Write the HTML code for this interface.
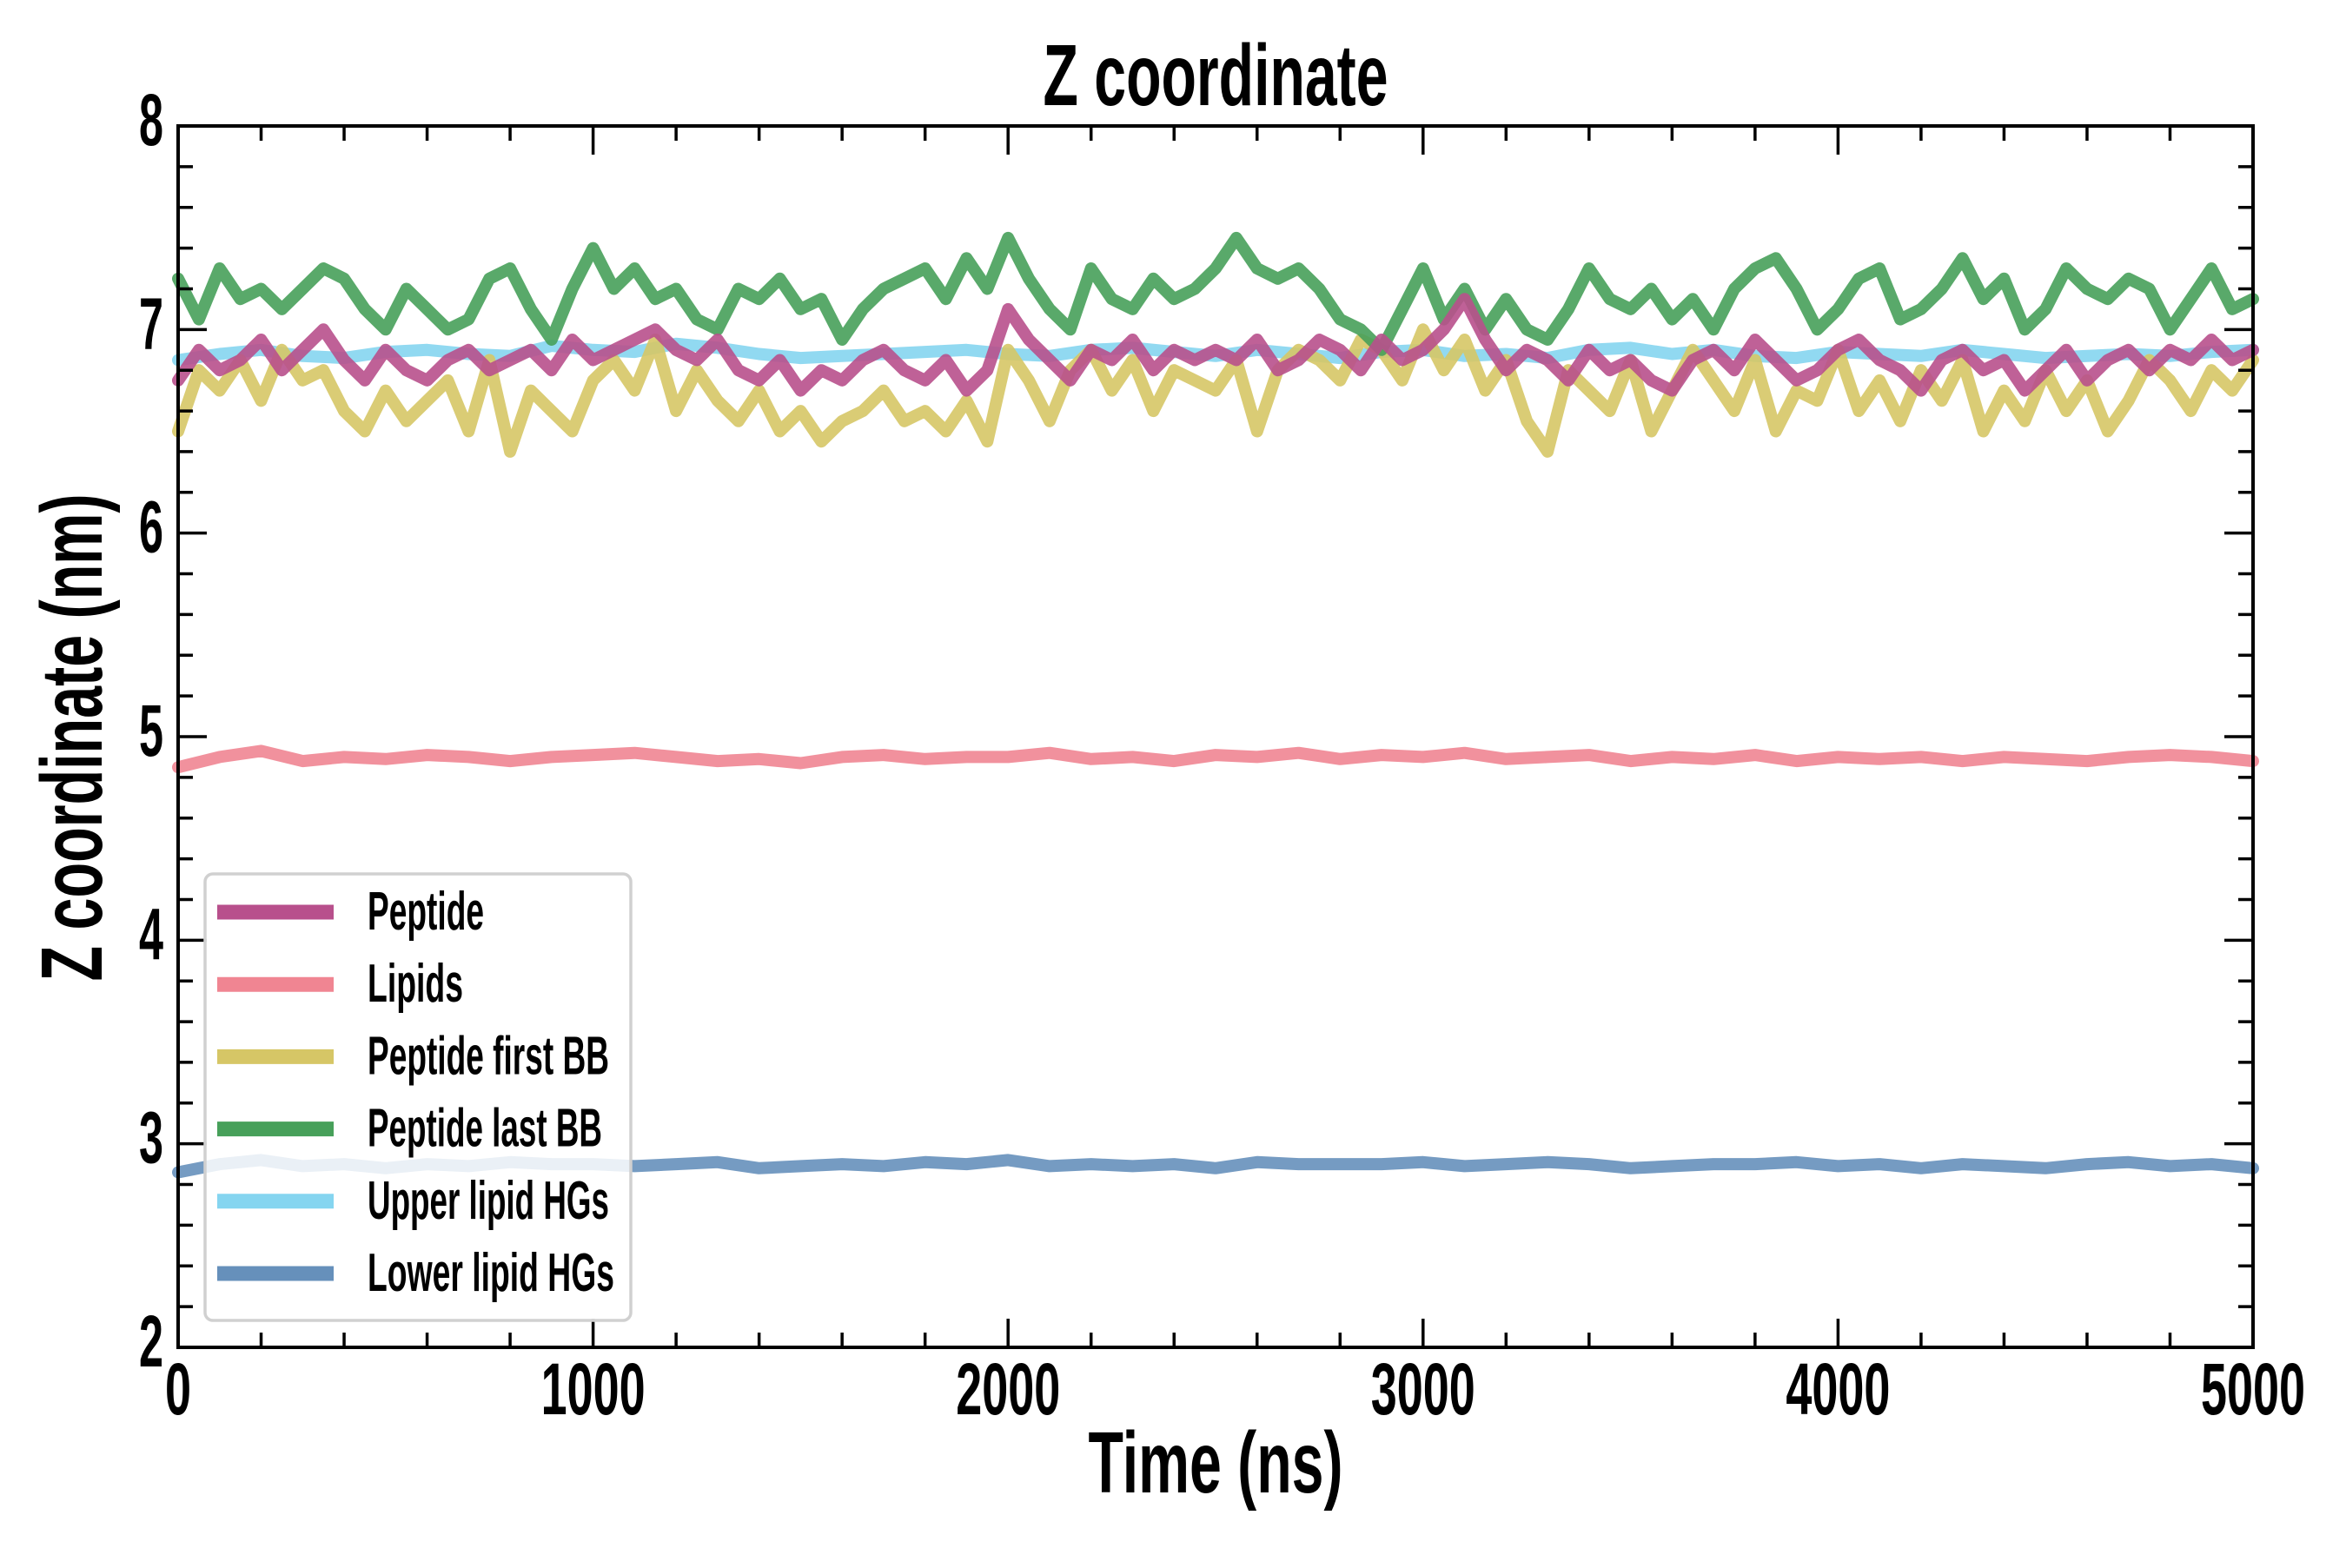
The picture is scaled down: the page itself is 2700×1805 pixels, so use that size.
<!DOCTYPE html>
<html><head><meta charset="utf-8"><style>
html,body{margin:0;padding:0;background:#fff;}
svg text{font-family:"Liberation Sans Narrow","Liberation Sans",sans-serif;font-weight:bold;fill:#000;}
</style></head><body>
<svg id="chart" width="2700" height="1800" viewBox="0 0 2700 1800" xmlns="http://www.w3.org/2000/svg">
<rect width="2700" height="1800" fill="#fff"/>
<g id="series"></g>
<g id="ticks"></g>
<rect x="205" y="145" width="2388" height="1406" fill="none" stroke="#000" stroke-width="4"/>
<text x="1399" y="121" font-size="100" text-anchor="middle" textLength="397" lengthAdjust="spacingAndGlyphs">Z coordinate</text>
<text x="1399" y="1718" font-size="100" text-anchor="middle" textLength="293" lengthAdjust="spacingAndGlyphs">Time (ns)</text>
<text x="0" y="0" font-size="100" text-anchor="middle" textLength="561" lengthAdjust="spacingAndGlyphs" transform="translate(117,849) rotate(-90)">Z coordinate (nm)</text>
<g id="legend"></g>
</svg>
<script>
const xTicks = [0, 1000, 2000, 3000, 4000, 5000];
const yTicks = [2, 3, 4, 5, 6, 7, 8];
const tEnd = 5000;
const peptide = [6.75,6.9,6.8,6.85,6.95,6.8,6.9,7.0,6.85,6.75,6.9,6.8,6.75,6.85,6.9,6.8,6.85,6.9,6.8,6.95,6.85,6.9,6.95,7.0,6.9,6.85,6.95,6.8,6.75,6.85,6.7,6.8,6.75,6.85,6.9,6.8,6.75,6.85,6.7,6.8,7.1,6.95,6.85,6.75,6.9,6.85,6.95,6.8,6.9,6.85,6.9,6.85,6.95,6.8,6.85,6.95,6.9,6.8,6.95,6.85,6.9,7.0,7.15,6.95,6.8,6.9,6.85,6.75,6.9,6.8,6.85,6.75,6.7,6.85,6.9,6.8,6.95,6.85,6.75,6.8,6.9,6.95,6.85,6.8,6.7,6.85,6.9,6.8,6.85,6.7,6.8,6.9,6.75,6.85,6.9,6.8,6.9,6.85,6.95,6.85,6.9];
const lipids = [4.85,4.9,4.93,4.88,4.9,4.89,4.91,4.9,4.88,4.9,4.91,4.92,4.9,4.88,4.89,4.87,4.9,4.91,4.89,4.9,4.9,4.92,4.89,4.9,4.88,4.91,4.9,4.92,4.89,4.91,4.9,4.92,4.89,4.9,4.91,4.88,4.9,4.89,4.91,4.88,4.9,4.89,4.9,4.88,4.9,4.89,4.88,4.9,4.91,4.9,4.88];
const firstBB = [6.5,6.8,6.7,6.85,6.65,6.9,6.75,6.8,6.6,6.5,6.7,6.55,6.65,6.75,6.5,6.85,6.4,6.7,6.6,6.5,6.75,6.85,6.7,6.95,6.6,6.8,6.65,6.55,6.7,6.5,6.6,6.45,6.55,6.6,6.7,6.55,6.6,6.5,6.65,6.45,6.9,6.75,6.55,6.8,6.9,6.7,6.85,6.6,6.8,6.75,6.7,6.85,6.5,6.8,6.9,6.85,6.75,6.95,6.9,6.75,7.0,6.8,6.95,6.7,6.85,6.55,6.4,6.8,6.7,6.6,6.85,6.5,6.7,6.9,6.75,6.6,6.85,6.5,6.7,6.65,6.9,6.6,6.75,6.55,6.8,6.65,6.85,6.5,6.7,6.55,6.8,6.6,6.75,6.5,6.65,6.85,6.75,6.6,6.8,6.7,6.85];
const lastBB = [7.25,7.05,7.3,7.15,7.2,7.1,7.2,7.3,7.25,7.1,7.0,7.2,7.1,7.0,7.05,7.25,7.3,7.1,6.95,7.2,7.4,7.2,7.3,7.15,7.2,7.05,7.0,7.2,7.15,7.25,7.1,7.15,6.95,7.1,7.2,7.25,7.3,7.15,7.35,7.2,7.45,7.25,7.1,7.0,7.3,7.15,7.1,7.25,7.15,7.2,7.3,7.45,7.3,7.25,7.3,7.2,7.05,7.0,6.9,7.1,7.3,7.05,7.2,7.0,7.15,7.0,6.95,7.1,7.3,7.15,7.1,7.2,7.05,7.15,7.0,7.2,7.3,7.35,7.2,7.0,7.1,7.25,7.3,7.05,7.1,7.2,7.35,7.15,7.25,7.0,7.1,7.3,7.2,7.15,7.25,7.2,7.0,7.15,7.3,7.1,7.15];
const upperHG = [6.85,6.88,6.9,6.87,6.86,6.89,6.9,6.88,6.87,6.92,6.9,6.89,6.93,6.91,6.88,6.86,6.87,6.88,6.89,6.9,6.88,6.87,6.9,6.91,6.89,6.87,6.9,6.88,6.86,6.89,6.9,6.87,6.88,6.86,6.9,6.91,6.88,6.9,6.87,6.86,6.89,6.88,6.87,6.9,6.88,6.86,6.87,6.88,6.87,6.89,6.9];
const lowerHG = [2.86,2.9,2.92,2.89,2.9,2.88,2.9,2.89,2.91,2.9,2.9,2.89,2.9,2.91,2.88,2.89,2.9,2.89,2.91,2.9,2.92,2.89,2.9,2.89,2.9,2.88,2.91,2.9,2.9,2.9,2.91,2.89,2.9,2.91,2.9,2.88,2.89,2.9,2.9,2.91,2.89,2.9,2.88,2.9,2.89,2.88,2.9,2.91,2.89,2.9,2.88];

const L=205,R=2593,T=145,B=1551;
function xs(v){return L+(v/tEnd)*(R-L);}
function ys(v){return B-(v-2)/6*(B-T);}
const NS="http://www.w3.org/2000/svg";
function el(tag,attrs,parent){const e=document.createElementNS(NS,tag);for(const k in attrs)e.setAttribute(k,attrs[k]);parent.appendChild(e);return e;}

const seriesDefs=[
 {label:"Peptide",data:peptide,color:"#b8508c",name:"peptide"},
 {label:"Lipids",data:lipids,color:"#f08592",name:"lipids"},
 {label:"Peptide first BB",data:firstBB,color:"#d6c666",name:"peptide-first-bb"},
 {label:"Peptide last BB",data:lastBB,color:"#47a05a",name:"peptide-last-bb"},
 {label:"Upper lipid HGs",data:upperHG,color:"#85d5f0",name:"upper-lipid-hgs"},
 {label:"Lower lipid HGs",data:lowerHG,color:"#6690bb",name:"lower-lipid-hgs"}
];
const order=[4,5,1,2,3,0];
const sg=document.getElementById('series');
order.forEach(i=>{
 const s=seriesDefs[i];const n=s.data.length;
 let d="";s.data.forEach((v,j)=>{d+=(j?"L":"M")+xs(j*tEnd/(n-1)).toFixed(1)+","+ys(v).toFixed(1);});
 const p=el('path',{d:d,fill:"none",stroke:s.color,"stroke-width":14,"stroke-linejoin":"round","stroke-linecap":"round",opacity:0.9},sg);
 
 
});

const tg=document.getElementById('ticks');
for(let v=0;v<=tEnd;v+=200){
 const maj=v%1000===0;const len=maj?33:17;const x=xs(v);
 el('line',{x1:x,x2:x,y1:B,y2:B-len,stroke:"#000","stroke-width":3.5},tg);
 el('line',{x1:x,x2:x,y1:T,y2:T+len,stroke:"#000","stroke-width":3.5},tg);
}
for(let k=0;k<=30;k++){
 const v=2+k*0.2;const maj=k%5===0;const len=maj?33:17;const y=ys(v);
 el('line',{x1:L,x2:L+len,y1:y,y2:y,stroke:"#000","stroke-width":3.5},tg);
 el('line',{x1:R,x2:R-len,y1:y,y2:y,stroke:"#000","stroke-width":3.5},tg);
}
xTicks.forEach(v=>{
 const t=el('text',{x:xs(v),y:B+77,"font-size":84,"text-anchor":"middle",textLength:String(v).length*30,lengthAdjust:"spacingAndGlyphs"},tg);
 t.textContent=v;
 
 
});
yTicks.forEach(v=>{
 const t=el('text',{x:188,y:ys(v)+22,"font-size":84,"text-anchor":"end",textLength:28,lengthAdjust:"spacingAndGlyphs"},tg);
 t.textContent=v;
 
 
});

const lg=document.getElementById('legend');
el('rect',{x:236,y:1006,width:490,height:514,rx:9,fill:"#fff","fill-opacity":0.85,stroke:"#d0d0d0","stroke-width":3.5},lg);
const txtW=[134,110,278,270,278,284];
seriesDefs.forEach((s,i)=>{
 const cy=1050+i*83.2;
 const ln=el('line',{x1:250,x2:384,y1:cy,y2:cy,stroke:s.color,"stroke-width":17},lg);
 
 
 const t=el('text',{x:423,y:cy+20,"font-size":62,textLength:txtW[i],lengthAdjust:"spacingAndGlyphs"},lg);
 t.textContent=s.label;
 
 
});
</script>
</body></html>
